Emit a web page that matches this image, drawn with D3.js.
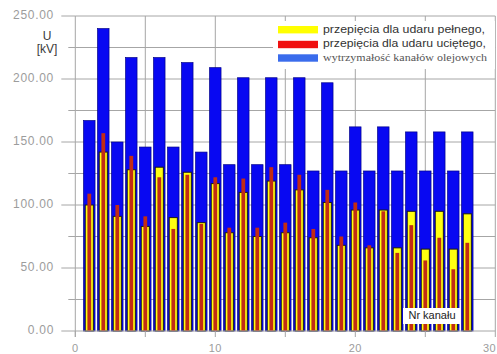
<!DOCTYPE html>
<html>
<head>
<meta charset="utf-8">
<script src="https://cdn.jsdelivr.net/npm/d3@7"></script>
<style>
  html, body { margin: 0; padding: 0; background: #fff; }
  svg { display: block; }
</style>
</head>
<body>
<script>
// Channel numbers
const channels = [1,2,3,4,5,6,7,8,9,10,11,12,13,14,15,16,17,18,19,20,21,22,23,24,25,26,27,28];
// Withstand voltage of the oil channels [kV]
const withstand = [167,240,150,217,146,217,146,213,142,209,132,201,132,201,132,201,127,197,127,162,127,162,127,158,127,158,127,158];
// Overvoltages for the full lightning impulse [kV]
const fullWave = [100,142,91,128,83,130,90,126,86,117,78,110,75,119,78,112,74,102,68,96,66,96,66,95,65,95,65,93];
// Overvoltages for the chopped lightning impulse [kV]
const choppedWave = [109,157,100,139,91,122,81,124,85,122,82,121,82,130,86,124,81,112,75,102,68,95,62,84,56,74,49,70];

const yTicks = [0,50,100,150,200,250];
const yMinorTicks = [25,75,125,175,225];
const xTicks = [0,10,20,30];
const xMinorTicks = [5,15,25];

const legendLabels = [
  "przepięcia dla udaru pełnego,",
  "przepięcia dla udaru uciętego,",
  "wytrzymałość kanałów olejowych"
];

const W = 497, H = 354;
const svg = d3.select("body").append("svg").attr("width", W).attr("height", H);

const x = d3.scaleLinear().domain([0, 30]).range([75.3, 495.3]);
const y = d3.scaleLinear().domain([0, 250]).range([331, 16]);

const gridColor = "#a6a6a6";
const labelColor = "#9c9c9c";

// Grid
const grid = svg.append("g");
grid.selectAll(".hg").data(yTicks.concat(yMinorTicks).filter(d => d > 0))
  .join("line")
  .attr("x1", x(0)).attr("x2", x(30))
  .attr("y1", d => y(d)).attr("y2", d => y(d))
  .attr("stroke", gridColor).attr("stroke-width", 1);
grid.selectAll(".vg").data([5,10,15,20,25,30])
  .join("line")
  .attr("x1", d => x(d)).attr("x2", d => x(d))
  .attr("y1", y(250)).attr("y2", y(0))
  .attr("stroke", gridColor).attr("stroke-width", 1);

const rows = channels.map((c, i) => ({c, w: withstand[i], f: fullWave[i], ch: choppedWave[i]}));

const unit = x(1) - x(0);
const blueW = 0.82 * unit, yellowW = 0.58 * unit, redW = 0.27 * unit;

// Withstand bars
svg.append("g").selectAll("rect").data(rows).join("rect")
  .attr("x", d => x(d.c) - blueW / 2)
  .attr("width", blueW)
  .attr("y", d => y(d.w))
  .attr("height", d => y(0) - y(d.w))
  .attr("fill", "#0808f2")
  .attr("stroke", "#00008a").attr("stroke-width", 0.7);

// Full impulse bars
svg.append("g").selectAll("rect").data(rows).join("rect")
  .attr("x", d => x(d.c) - yellowW / 2)
  .attr("width", yellowW)
  .attr("y", d => y(d.f))
  .attr("height", d => y(0) - y(d.f))
  .attr("fill", "#ffff10")
  .attr("stroke", "#1a1a1a").attr("stroke-width", 1);

// Chopped impulse bars
svg.append("g").selectAll("rect").data(rows).join("rect")
  .attr("x", d => x(d.c) - redW / 2)
  .attr("width", redW)
  .attr("y", d => y(d.ch))
  .attr("height", d => y(0) - y(d.ch))
  .attr("fill", "#c22c14");

// Axis lines
svg.append("line").attr("x1", x(0)).attr("x2", x(0)).attr("y1", y(250)).attr("y2", y(0) + 6)
  .attr("stroke", gridColor);
svg.append("line").attr("x1", x(0)).attr("x2", x(30)).attr("y1", y(0)).attr("y2", y(0))
  .attr("stroke", gridColor);

// Y ticks
const yAxis = svg.append("g");
yAxis.selectAll(".maj").data(yTicks).join("line")
  .attr("x1", x(0) - 14).attr("x2", x(0))
  .attr("y1", d => y(d)).attr("y2", d => y(d))
  .attr("stroke", gridColor);
yAxis.selectAll(".min").data(yMinorTicks).join("line")
  .attr("x1", x(0) - 7).attr("x2", x(0))
  .attr("y1", d => y(d)).attr("y2", d => y(d))
  .attr("stroke", gridColor);
yAxis.selectAll("text").data(yTicks).join("text")
  .attr("x", 54).attr("y", d => y(d))
  .attr("text-anchor", "end").attr("dominant-baseline", "middle")
  .attr("font-family", "Liberation Sans, Arial, sans-serif")
  .attr("font-size", 12).attr("letter-spacing", 0.7)
  .attr("fill", labelColor)
  .text(d => d3.format(".2f")(d));

// X ticks
const xAxis = svg.append("g");
xAxis.selectAll("line").data(xTicks.concat(xMinorTicks)).join("line")
  .attr("x1", d => x(d)).attr("x2", d => x(d))
  .attr("y1", y(0)).attr("y2", y(0) + 6)
  .attr("stroke", gridColor);
xAxis.selectAll("text").data(xTicks).join("text")
  .attr("x", d => d === 30 ? W - 1 : x(d))
  .attr("y", 352)
  .attr("text-anchor", d => d === 30 ? "end" : "middle")
  .attr("font-family", "Liberation Sans, Arial, sans-serif")
  .attr("font-size", 11).attr("letter-spacing", 0.4)
  .attr("fill", labelColor)
  .text(d => d);

// Y axis title
const yTitle = svg.append("text")
  .attr("text-anchor", "middle")
  .attr("font-family", "Liberation Sans, Arial, sans-serif")
  .attr("font-size", 12).attr("fill", "#3a3a3a");
yTitle.append("tspan").attr("x", 47).attr("y", 40).text("U");
yTitle.append("tspan").attr("x", 47).attr("y", 53).text("[kV]");

// Legend
const legend = svg.append("g");
legend.append("rect").attr("x", 273).attr("y", 21).attr("width", 222).attr("height", 48).attr("fill", "#fff");
const legendColors = ["#ffff00", "#f01010", "#3a6cec"];
const legendY = [29.7, 44.5, 58];
legend.selectAll(".sw").data(legendLabels).join("rect")
  .attr("x", 278).attr("width", 40)
  .attr("y", (d, i) => legendY[i] - 3.7).attr("height", 7.4)
  .attr("fill", (d, i) => legendColors[i]);
legend.selectAll("text").data(legendLabels).join("text")
  .attr("x", 323).attr("y", (d, i) => legendY[i])
  .attr("dominant-baseline", "middle")
  .attr("font-family", (d, i) => i < 2 ? "Liberation Sans, Arial, sans-serif" : "Liberation Serif, Times New Roman, serif")
  .attr("font-size", 11)
  .attr("fill", (d, i) => i < 2 ? "#333" : "#555")
  .attr("textLength", (d, i) => [162, 163, 164][i])
  .attr("lengthAdjust", "spacingAndGlyphs")
  .text(d => d);

// X axis title box
const xTitle = svg.append("g");
xTitle.append("rect").attr("x", 403).attr("y", 308).attr("width", 58).attr("height", 16).attr("fill", "#fff");
xTitle.append("text").attr("x", 432).attr("y", 316.5)
  .attr("text-anchor", "middle").attr("dominant-baseline", "middle")
  .attr("font-family", "Liberation Sans, Arial, sans-serif")
  .attr("font-size", 11).attr("fill", "#222")
  .text("Nr kanału");
</script>
</body>
</html>
